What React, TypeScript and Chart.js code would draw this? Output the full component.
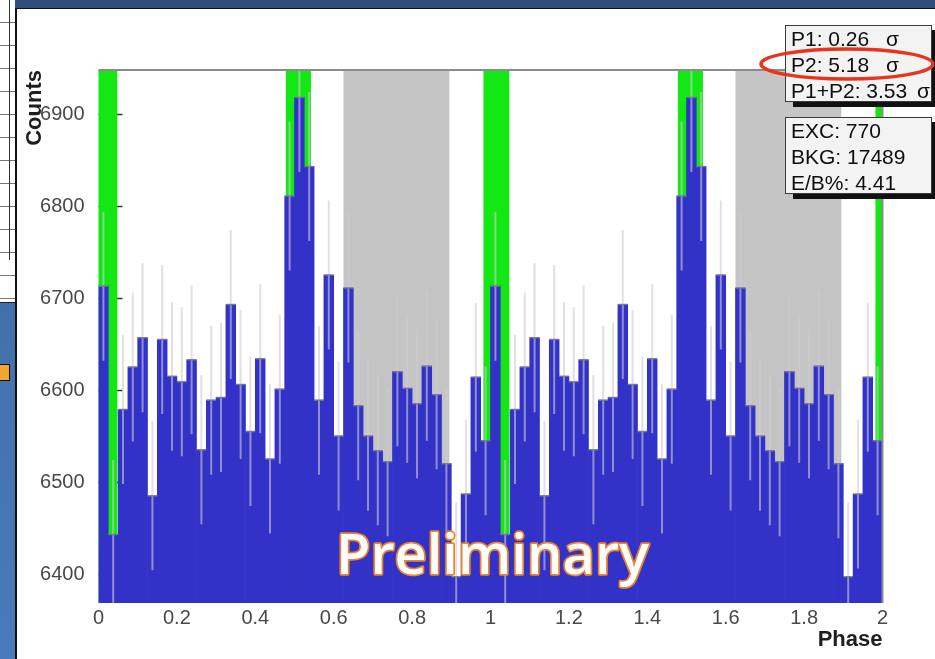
import React, { useEffect, useRef } from 'react';
import { Chart, registerables } from 'chart.js';

Chart.register(...registerables);

// ---- data ----
const phaseBinWidth = 0.025;
// counts per phase bin (40 bins over one rotation, 0..1)
const phaseCounts = [
  6713, 6443, 6579, 6625, 6657, 6485, 6655, 6615, 6609, 6633,
  6535, 6589, 6592, 6693, 6606, 6555, 6634, 6525, 6601, 6811,
  6918, 6843, 6589, 6725, 6550, 6711, 6583, 6550, 6534, 6522,
  6620, 6602, 6585, 6626, 6595, 6520, 6397, 6487, 6614, 6545,
];
// the phasogram is shown over two rotations
const rotationStarts = [0, 1];
const countErrorHalf = 81;
const yTickValues = [6400, 6500, 6600, 6700, 6800, 6900];
const xTickValues = [0, 0.2, 0.4, 0.6, 0.8, 1, 1.2, 1.4, 1.6, 1.8, 2];
const yRange = [6368.5, 6948];
const xRange = [0, 2];
const peakBands = [
  [0, 0.048], [0.478, 0.542], [0.982, 1.048], [1.478, 1.542], [1.982, 2],
];
const offPulseBands = [
  [0.625, 0.895], [1.625, 1.895],
];
const significanceLabels = ['P1: 0.26', 'P2: 5.18', 'P1+P2: 3.53'];
const statsLabels = ['EXC: 770', 'BKG: 17489', 'E/B%: 4.41'];
const xTitle = 'Phase';
const yTitle = 'Counts';
const watermark = 'Preliminary';

const FONT = '"Liberation Sans", Arial, Helvetica, sans-serif';

const barData: { x: number; y: number }[] = [];
rotationStarts.forEach((start) => {
  phaseCounts.forEach((c, i) => {
    barData.push({ x: start + (i + 0.5) * phaseBinWidth, y: c });
  });
});

const decorPlugin = {
  id: 'phaseDecor',
  beforeDatasetsDraw(chart: any) {
    const { ctx, chartArea: a, scales } = chart;
    const x = scales.x;
    const y = scales.y;
    ctx.save();
    // inward major ticks on the y axis
    ctx.strokeStyle = '#333';
    ctx.lineWidth = 1.5;
    yTickValues.forEach((v) => {
      const py = Math.round(y.getPixelForValue(v)) + 0.5;
      ctx.beginPath();
      ctx.moveTo(a.left, py);
      ctx.lineTo(a.left + 24, py);
      ctx.stroke();
    });
    ctx.fillStyle = '#c5c5c5';
    offPulseBands.forEach(([s, e]) => {
      const x0 = x.getPixelForValue(s);
      const x1 = x.getPixelForValue(e);
      ctx.fillRect(x0, a.top, x1 - x0, a.bottom - a.top);
    });
    ctx.fillStyle = '#14e814';
    peakBands.forEach(([s, e]) => {
      const x0 = x.getPixelForValue(s);
      const x1 = x.getPixelForValue(e);
      ctx.fillRect(x0, a.top, x1 - x0, a.bottom - a.top);
    });
    ctx.restore();
  },
  afterDatasetsDraw(chart: any) {
    const { ctx, chartArea: a, scales } = chart;
    const y = scales.y;
    const meta = chart.getDatasetMeta(0);
    ctx.save();
    ctx.beginPath();
    ctx.rect(a.left, a.top, a.right - a.left, a.bottom - a.top);
    ctx.clip();
    meta.data.forEach((bar: any, i: number) => {
      const v = barData[i].y;
      const yTop = y.getPixelForValue(v + countErrorHalf);
      const yBot = y.getPixelForValue(v - countErrorHalf);
      ctx.strokeStyle = 'rgba(205,205,212,0.6)';
      ctx.lineWidth = 2;
      ctx.beginPath();
      ctx.moveTo(bar.x, yTop);
      ctx.lineTo(bar.x, yBot);
      ctx.stroke();
      ctx.strokeStyle = 'rgba(120,120,150,0.85)';
      ctx.lineWidth = 1.5;
      ctx.beginPath();
      ctx.moveTo(bar.x - bar.width / 2, bar.y);
      ctx.lineTo(bar.x + bar.width / 2, bar.y);
      ctx.stroke();
    });
    ctx.restore();
    ctx.save();
    ctx.strokeStyle = '#8c8c8c';
    ctx.lineWidth = 2;
    ctx.beginPath();
    ctx.moveTo(a.left, a.top);
    ctx.lineTo(a.right, a.top);
    ctx.lineTo(a.right, a.bottom);
    ctx.stroke();
    ctx.restore();
  },
};

function formatPhase(v: number) {
  return String(Math.round(v * 10) / 10);
}

function PhaseChart() {
  const ref = useRef<HTMLCanvasElement | null>(null);
  useEffect(() => {
    if (!ref.current) return;
    const chart = new Chart(ref.current, {
      type: 'bar',
      data: {
        datasets: [
          {
            data: barData as any,
            backgroundColor: '#3232c8',
            borderWidth: 0,
            barPercentage: 1,
            categoryPercentage: 1,
            grouped: false,
          } as any,
        ],
      },
      options: {
        responsive: false,
        animation: false,
        events: [],
        layout: { padding: { left: 0, top: 70, right: 52.5, bottom: 0 } },
        plugins: { legend: { display: false }, tooltip: { enabled: false } },
        scales: {
          x: {
            type: 'linear',
            min: xRange[0],
            max: xRange[1],
            offset: false,
            afterBuildTicks: (s: any) => {
              s.ticks = xTickValues.map((v) => ({ value: v }));
            },
            afterFit: (s: any) => {
              s.height = 56;
            },
            grid: { display: false, offset: false },
            border: { display: false },
            ticks: {
              padding: -5,
              color: '#484848',
              font: { family: FONT, size: 20 },
              maxRotation: 0,
              autoSkip: false,
              callback: (v: any) => formatPhase(Number(v)),
            },
            title: {
              display: true,
              text: xTitle,
              align: 'end',
              color: '#1e1e1e',
              font: { family: FONT, size: 22, weight: 'bold' },
              padding: { top: 0, bottom: 6 },
            },
          } as any,
          y: {
            type: 'linear',
            min: yRange[0],
            max: yRange[1],
            afterBuildTicks: (s: any) => {
              s.ticks = yTickValues.map((v) => ({ value: v }));
            },
            afterFit: (s: any) => {
              s.width = 98.5;
            },
            grid: { display: false },
            border: { display: false },
            ticks: {
              padding: 6,
              color: '#484848',
              font: { family: FONT, size: 20 },
              callback: (v: any) => String(v),
            },
            title: {
              display: true,
              text: yTitle,
              align: 'end',
              color: '#1e1e1e',
              font: { family: FONT, size: 22, weight: 'bold' },
              padding: { top: 22, bottom: 0 },
            },
          } as any,
        },
      },
      plugins: [decorPlugin],
    });
    return () => chart.destroy();
  }, []);
  return (
    <canvas
      ref={ref}
      width={935}
      height={659}
      style={{ position: 'absolute', left: 0, top: 0, width: 935, height: 659 }}
    />
  );
}

const boxStyle: React.CSSProperties = {
  position: 'absolute',
  left: 785,
  width: 147,
  height: 77,
  background: '#f3f3f3',
  border: '1.5px solid #3a3a3a',
  boxShadow: '8px 5px 0 #111',
  fontFamily: FONT,
  fontSize: 21,
  lineHeight: '26px',
  color: '#0e0e0e',
  paddingLeft: 5,
  boxSizing: 'border-box',
  whiteSpace: 'pre',
};

export default function App() {
  return (
    <div
      style={{
        position: 'fixed',
        left: 0,
        top: 0,
        width: 935,
        height: 659,
        overflow: 'hidden',
        background: 'linear-gradient(180deg, #3b66a0 0%, #4a7bb8 100%)',
      }}
    >
      {/* fragment of the neighbouring slide figure */}
      <div
        style={{
          position: 'absolute',
          left: 0,
          top: 0,
          width: 15,
          height: 302,
          background:
            'repeating-linear-gradient(180deg, #fff 0px, #fff 22px, #777 22px, #777 23px)',
          borderBottom: '1.5px solid #222',
        }}
      />
      <div
        style={{ position: 'absolute', left: 9, top: 0, width: 1, height: 260, background: '#333' }}
      />
      <div
        style={{
          position: 'absolute',
          left: -2,
          top: 364,
          width: 10,
          height: 15,
          background: '#f2a630',
          border: '1.5px solid #111',
        }}
      />
      {/* dark title band */}
      <div
        style={{
          position: 'absolute',
          left: 15,
          top: 0,
          width: 920,
          height: 8,
          background: '#2f4e7a',
          borderBottom: '1.5px solid #111',
        }}
      />
      {/* white figure panel */}
      <div
        style={{
          position: 'absolute',
          left: 15,
          top: 9,
          width: 920,
          height: 650,
          background: '#fff',
          borderLeft: '2px solid #111',
        }}
      />
      <PhaseChart />
      <div style={{ ...boxStyle, top: 25 }}>
        {significanceLabels.map((t, i) => (
          <div key={t}>
            {t}
            <span style={{ position: 'absolute', left: i === 2 ? 131 : 100 }}>σ</span>
          </div>
        ))}
      </div>
      <div style={{ ...boxStyle, top: 117 }}>
        {statsLabels.map((t) => (
          <div key={t}>{t}</div>
        ))}
      </div>
      <svg
        width={935}
        height={659}
        style={{ position: 'absolute', left: 0, top: 0, pointerEvents: 'none' }}
      >
        <ellipse cx={847} cy={64} rx={86} ry={15} fill="none" stroke="#e8341c" strokeWidth={3.5} />
        <text
          x={336}
          y={574}
          fontFamily='"Open Sans", "Noto Sans", sans-serif'
          fontWeight={600}
          fontSize={56}
          fill="#ffffff"
          stroke="#ee8428"
          strokeWidth={3.5}
          strokeLinejoin="round"
          paintOrder="stroke"
          textLength={313}
          lengthAdjust="spacingAndGlyphs"
        >
          {watermark}
        </text>
      </svg>
    </div>
  );
}
